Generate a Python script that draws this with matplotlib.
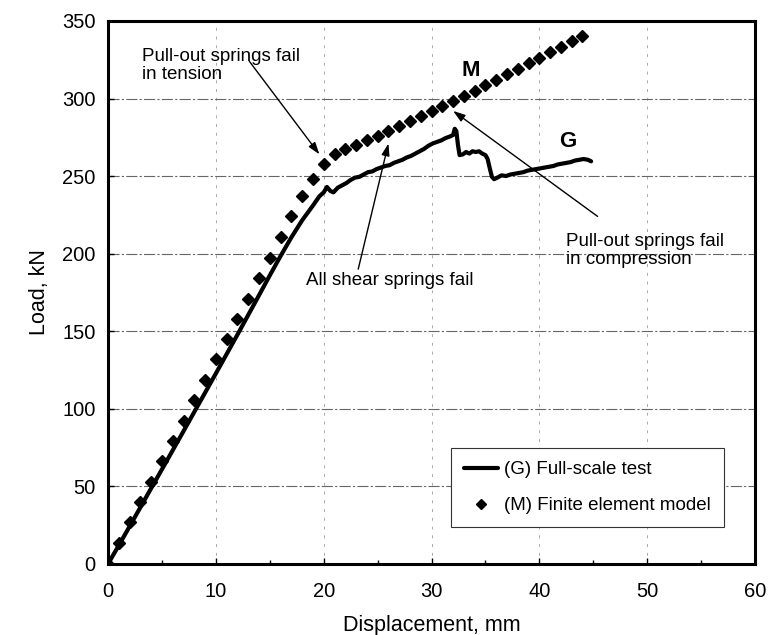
import numpy as np
import matplotlib
matplotlib.use('Agg')
import matplotlib.pyplot as plt
from matplotlib.ticker import MultipleLocator

plt.rcParams['font.family'] = ['Liberation Sans', 'DejaVu Sans']

# (M) finite element model, one point per mm
m_disp = list(range(0, 45))
m_load = [0, 13.5, 27, 40, 53, 66, 79, 92, 105.5, 118.5,
          132, 145, 158, 171, 184.5, 197.5, 210.5, 224, 237, 248,
          258, 264.5, 267.3, 270.2, 273.1, 276.1, 279.1, 282.2, 285.3, 288.5,
          291.7, 295.0, 298.3, 301.7, 305.1, 308.6, 312.1, 315.6, 319.2, 322.8,
          326.3, 329.8, 333.3, 336.8, 340.3]

# (G) full-scale test
g_disp = [0, 1, 2, 3, 4, 5, 6, 7, 8, 9, 10, 11, 12, 13, 14, 15, 16, 17, 18, 19,
          19.6, 20.0, 20.3, 20.6, 20.9, 21.3, 21.7, 22.1, 22.5, 22.9, 23.3, 23.7,
          24.1, 24.5, 24.9, 25.3, 25.7, 26.1, 26.5, 26.9, 27.3, 27.7, 28.1, 28.5,
          28.9, 29.3, 29.7, 30.1, 30.5, 30.9, 31.3, 31.7, 32.0, 32.15, 32.3, 32.45,
          32.6, 32.9, 33.2, 33.5, 33.8, 34.1, 34.4, 34.7, 35.0, 35.2, 35.4, 35.6,
          35.8, 36.1, 36.5, 36.9, 37.3, 37.7, 38.1, 38.5, 38.9, 39.3, 39.7, 40.1,
          40.5, 40.9, 41.3, 41.7, 42.1, 42.5, 42.9, 43.3, 43.7, 44.1, 44.5, 44.8]
g_load = [0, 12, 24.2, 36.5, 48.8, 61, 73.3, 85.6, 98, 110.4, 122.8, 135.3, 147.8,
          160.5, 173.2, 186, 198.5, 210.5, 221.5, 231,
          237, 239.5, 243, 240.5, 239.5, 242.5, 244, 245.5, 247.5, 249, 249.5, 251,
          252.5, 253, 254.5, 255.5, 256.5, 257, 258.5, 259.5, 260.5, 262, 263, 264.5,
          266, 267.5, 269.5, 271, 272, 273, 274.5, 275.5, 276.5, 280.5, 279, 270,
          263.5, 264, 265.5, 264.5, 266, 265.5, 266, 264.5, 263.5, 261, 255, 249.5,
          248, 249, 250.5, 250, 251, 251.5, 252, 252.5, 253.5, 254, 254.5, 255,
          255.5, 256, 256.5, 257.5, 258, 258.5, 259, 260, 260.5, 261, 260.5, 259.5]

fig = plt.figure(figsize=(7.72, 6.35), dpi=100)
ax = fig.add_axes([0.140, 0.112, 0.838, 0.855])

ax.plot(g_disp, g_load, color='black', lw=3, solid_capstyle='round',
        label='(G) Full-scale test', zorder=3)
ax.plot(m_disp, m_load, linestyle='none', marker='D', ms=6, color='black',
        label='(M) Finite element model', zorder=4)

ax.set_xlim(0, 60)
ax.set_ylim(0, 350)
ax.xaxis.set_major_locator(MultipleLocator(10))
ax.xaxis.set_minor_locator(MultipleLocator(5))
ax.yaxis.set_major_locator(MultipleLocator(50))

ax.grid(axis='y', color='#666666', lw=0.8, linestyle=(0, (10, 2, 2, 2)))
ax.grid(axis='x', color='#aaaaaa', lw=0.7, linestyle=(0, (3, 6)))
ax.set_axisbelow(True)

for s in ax.spines.values():
    s.set_linewidth(2.2)
ax.tick_params(which='both', direction='in', width=1, labelsize=14.5)
ax.tick_params(which='major', length=4)
ax.tick_params(which='minor', length=3)
ax.tick_params(axis='x', pad=13)
ax.tick_params(axis='y', pad=9)

ax.set_xlabel('Displacement, mm', fontsize=15.5, labelpad=10)
ax.set_ylabel('Load, kN', fontsize=15.5, labelpad=9)

arrow = dict(arrowstyle='-|>,head_length=0.6,head_width=0.2', lw=1, color='black',
             mutation_scale=12, shrinkA=0, shrinkB=0)
ax.text(3.1, 321.5, 'Pull-out springs fail\nin tension', fontsize=13.5,
        ha='left', va='center', linespacing=1.1)
ax.annotate('', xy=(19.6, 264), xytext=(13.1, 324), arrowprops=arrow)
ax.annotate('', xy=(26.0, 271), xytext=(23.2, 190), arrowprops=arrow)
ax.annotate('', xy=(32.0, 292), xytext=(45.4, 224), arrowprops=arrow)
ax.text(18.4, 182.5, 'All shear springs fail', fontsize=13.5, ha='left', va='center')
ax.text(42.5, 202, 'Pull-out springs fail\nin compression', fontsize=13.5,
        ha='left', va='center', linespacing=1.1)
ax.text(33.6, 318, 'M', fontsize=16, fontweight='bold', ha='center', va='center')
ax.text(42.6, 272.5, 'G', fontsize=16, fontweight='bold', ha='center', va='center')

leg = ax.legend(loc='lower left', bbox_to_anchor=(31.8 / 60, 23.5 / 350),
                borderaxespad=0, borderpad=0.7, handlelength=1.8, handletextpad=0.35,
                labelspacing=1.0, fontsize=13.5, fancybox=False, framealpha=1,
                edgecolor='#333333', markerscale=0.8)
leg.get_frame().set_linewidth(0.8)

fig.savefig('out.png', dpi=100)
